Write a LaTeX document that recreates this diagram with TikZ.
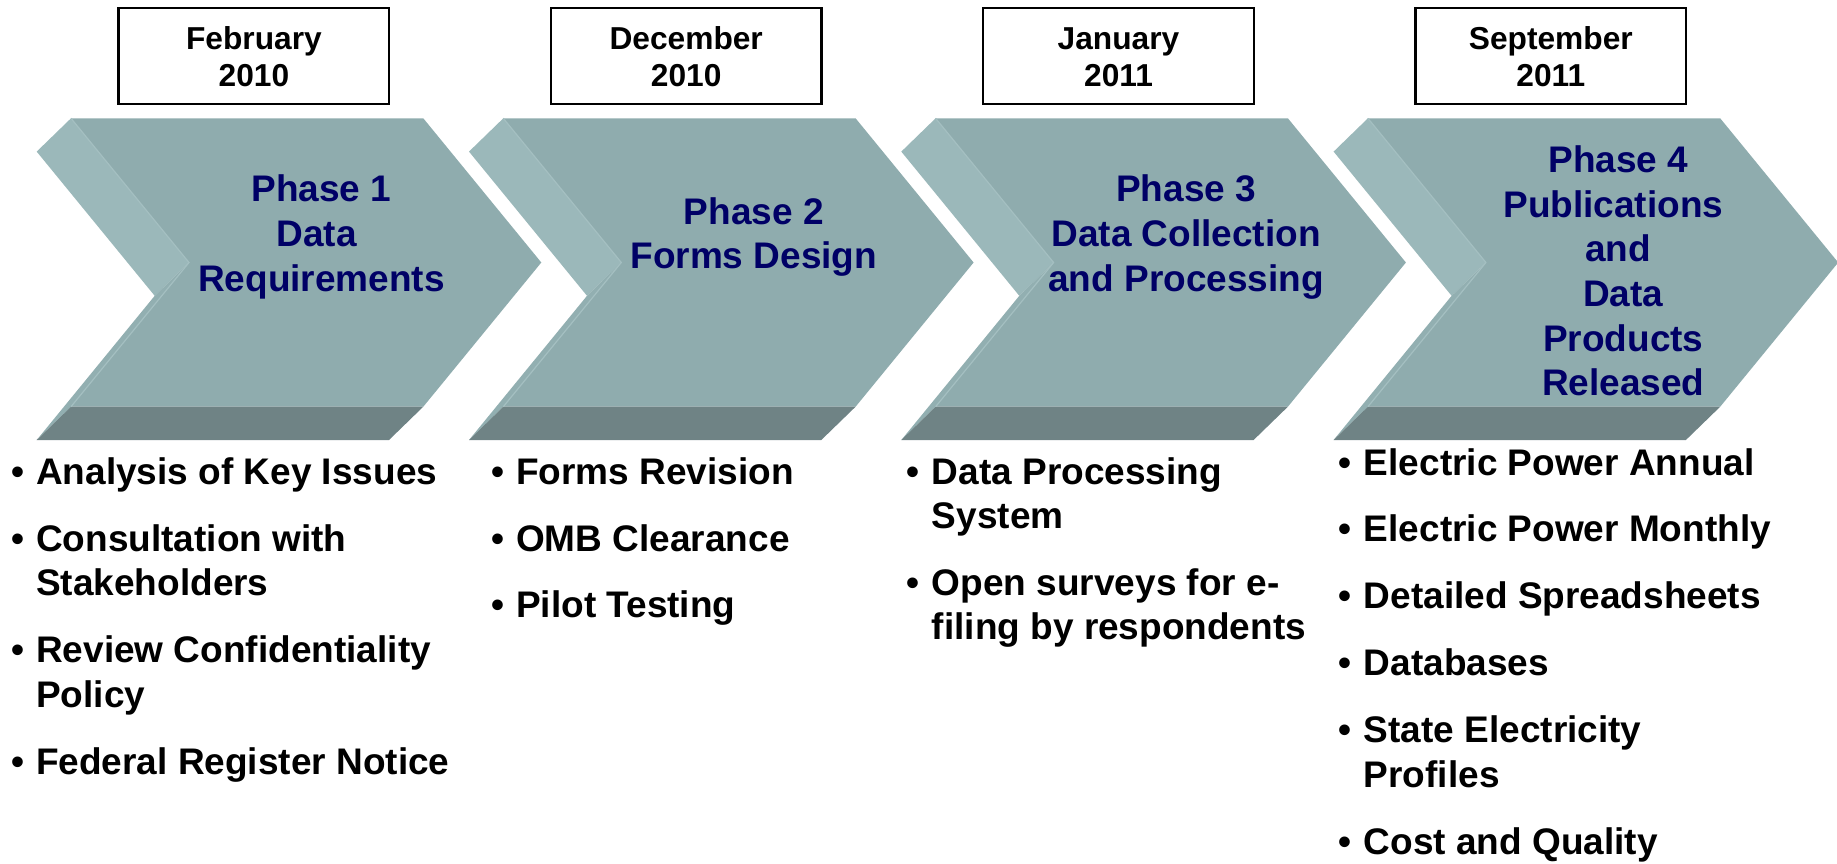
\documentclass[tikz,border=0pt]{standalone}
\usepackage{fontspec}
\setmainfont{Liberation Sans}
\definecolor{face}{RGB}{143,172,174}
\definecolor{facetop}{RGB}{155,184,186}
\definecolor{facelow}{RGB}{146,175,177}
\definecolor{facebot}{RGB}{111,131,133}
\definecolor{edgelight}{RGB}{164,191,193}
\definecolor{navy}{RGB}{0,0,102}
\tikzset{
  phasetxt/.style={anchor=base, text=navy, font=\fontsize{37}{44.5}\selectfont\bfseries, inner sep=0pt},
  bullettxt/.style={anchor=base west, font=\fontsize{37}{44.5}\selectfont\bfseries, inner sep=0pt},
  datetxt/.style={anchor=base, font=\fontsize{31.7}{37.4}\selectfont\bfseries, inner sep=0pt},
  datebox/.style={draw=black, line width=2.5pt, fill=white, minimum width=270.6pt, minimum height=95.8pt, inner sep=0pt},
}
\newcommand{\bul}{\llap{\textbullet\hspace{12pt}}}
\begin{document}
\begin{tikzpicture}[x=1pt,y=-1pt]
\useasboundingbox (0,0) rectangle (1837,863);
\clip (0,0) rectangle (1837,863);
% chevrons
\foreach \i in {0,1,2,3}{
  \begin{scope}[shift={(\i*432.3,0)}]
    \fill[face] (71,118.3) -- (423.3,118.3) -- (541.3,262.5) -- (423.3,406.7) -- (71,406.7) -- (189,262.5) -- cycle;
    \fill[facetop] (71,118.3) -- (189,262.5) -- (154.7,295.8) -- (36.7,151.6) -- cycle;
    \fill[facelow] (189,262.5) -- (71,406.7) -- (36.7,440) -- (154.7,295.8) -- cycle;
    \fill[facebot] (71,406.7) -- (423.3,406.7) -- (389,440) -- (36.7,440) -- cycle;
    \draw[edgelight, line width=1.2pt] (71,118.3) -- (189,262.5) -- (71,406.7);
  \end{scope}
}
% date boxes
\foreach \i/\m/\y in {0/February/2010, 1/December/2010, 2/January/2011, 3/September/2011}{
  \node[datebox] (box\i) at ({253.9+\i*432.3},55.9) {};
  \node[datetxt] (month\i) at ({253.9+\i*432.3},49.3) {\m};
  \node[datetxt] (year\i) at ({253.9+\i*432.3},86.7) {\y};
}
% phase titles
\node[phasetxt] (p1a) at (321.5,201.9) {Phase 1};
\node[phasetxt] (p1b) at (321.5,246.5) {Data\hspace*{10pt}};
\node[phasetxt] (p1c) at (321.5,291.1) {Requirements};
\node[phasetxt] (p2a) at (753.8,224.2) {Phase 2};
\node[phasetxt] (p2b) at (753.8,268.8) {Forms Design};
\node[phasetxt] (p3a) at (1186.1,201.9) {Phase 3};
\node[phasetxt] (p3b) at (1186.1,246.5) {Data Collection};
\node[phasetxt] (p3c) at (1186.1,291.1) {and Processing};
\node[phasetxt] (p4a) at (1623.3,172.7) {Phase 4\hspace*{10pt}};
\node[phasetxt] (p4b) at (1623.3,217.3) {Publications\hspace*{20pt}};
\node[phasetxt] (p4c) at (1623.3,261.9) {and\hspace*{10pt}};
\node[phasetxt] (p4d) at (1623.3,306.5) {Data};
\node[phasetxt] (p4e) at (1623.3,351.1) {Products};
\node[phasetxt] (p4f) at (1623.3,395.7) {Released};
% bullets column 1
\node[bullettxt] (c1a) at (36,484.3) {\bul Analysis of Key Issues};
\node[bullettxt] (c1b) at (36,551) {\bul Consultation with};
\node[bullettxt] (c1c) at (36,595.5) {Stakeholders};
\node[bullettxt] (c1d) at (36,662.7) {\bul Review Confidentiality};
\node[bullettxt] (c1e) at (36,707.2) {Policy};
\node[bullettxt] (c1f) at (36,774.3) {\bul Federal Register Notice};
% bullets column 2
\node[bullettxt] (c2a) at (516,484.3) {\bul Forms Revision};
\node[bullettxt] (c2b) at (516,551) {\bul OMB Clearance};
\node[bullettxt] (c2c) at (516,617) {\bul Pilot Testing};
% bullets column 3
\node[bullettxt] (c3a) at (931.7,484.3) {\bul Data Processing};
\node[bullettxt] (c3b) at (931.7,528.8) {System};
\node[bullettxt] (c3c) at (931.7,595) {\bul Open surveys for e-};
\node[bullettxt] (c3d) at (931.7,639.5) {filing by respondents};
% bullets column 4
\node[bullettxt] (c4a) at (1363.7,475) {\bul Electric Power Annual};
\node[bullettxt] (c4b) at (1363.7,541.7) {\bul Electric Power Monthly};
\node[bullettxt] (c4c) at (1363.7,608.3) {\bul Detailed Spreadsheets};
\node[bullettxt] (c4d) at (1363.7,675.5) {\bul Databases};
\node[bullettxt] (c4e) at (1363.7,742.5) {\bul State Electricity};
\node[bullettxt] (c4f) at (1363.7,787.5) {Profiles};
\node[bullettxt] (c4g) at (1363.7,854) {\bul Cost and Quality};
\end{tikzpicture}
\end{document}
